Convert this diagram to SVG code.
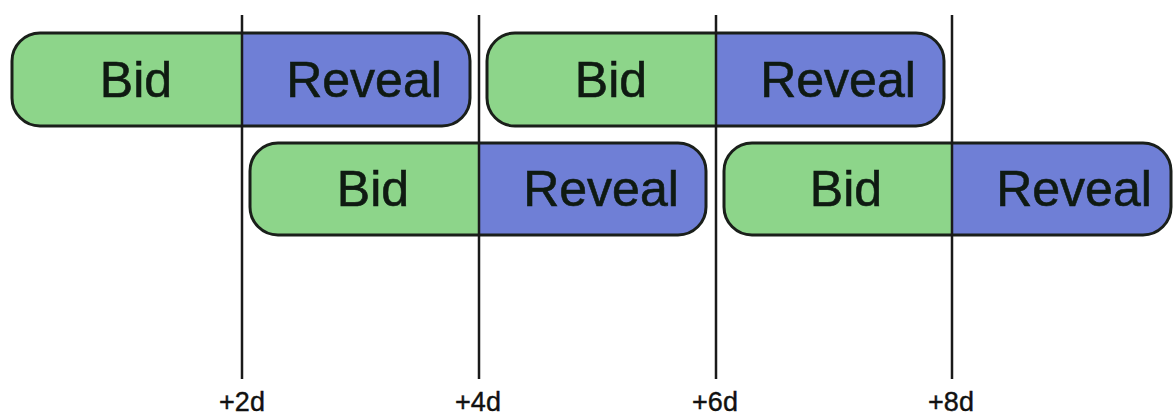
<svg xmlns="http://www.w3.org/2000/svg" width="1173" height="417" viewBox="0 0 1173 417">
<style>
.bid{fill:#8dd58a}
.rev{fill:#6f7fd6}
.outline{fill:none;stroke:#1a1f1a;stroke-width:3}
.t{font-family:"Liberation Sans",Arial,sans-serif;font-size:50px;fill:#0f1a12;text-anchor:middle;stroke:#0f1a12;stroke-width:0.6}
.tick{stroke:#1a1a1a;stroke-width:2.5}
.lbl{font-family:"Liberation Sans",Arial,sans-serif;font-size:27px;fill:#111;text-anchor:middle;stroke:#111;stroke-width:0.4}
</style>
<defs>
<clipPath id="c1"><rect x="12" y="33" width="458" height="93" rx="28"/></clipPath>
<clipPath id="c2"><rect x="487" y="33" width="457" height="93" rx="28"/></clipPath>
<clipPath id="c3"><rect x="250" y="143" width="456" height="92" rx="28"/></clipPath>
<clipPath id="c4"><rect x="724" y="143" width="447" height="92" rx="28"/></clipPath>
</defs>
<rect width="1173" height="417" fill="#ffffff"/>
<g id="box1">
<g clip-path="url(#c1)"><rect class="bid" x="12" y="33" width="230" height="93"/><rect class="rev" x="242" y="33" width="228" height="93"/></g>
<rect class="outline" x="12" y="33" width="458" height="93" rx="28"/>
<text class="t" x="136" y="97">Bid</text><text class="t" x="364" y="97">Reveal</text>
</g>
<g id="box2">
<g clip-path="url(#c2)"><rect class="bid" x="487" y="33" width="229" height="93"/><rect class="rev" x="716" y="33" width="228" height="93"/></g>
<rect class="outline" x="487" y="33" width="457" height="93" rx="28"/>
<text class="t" x="611" y="97">Bid</text><text class="t" x="838" y="97">Reveal</text>
</g>
<g id="box3">
<g clip-path="url(#c3)"><rect class="bid" x="250" y="143" width="229" height="92"/><rect class="rev" x="479" y="143" width="227" height="92"/></g>
<rect class="outline" x="250" y="143" width="456" height="92" rx="28"/>
<text class="t" x="373" y="206">Bid</text><text class="t" x="601" y="206">Reveal</text>
</g>
<g id="box4">
<g clip-path="url(#c4)"><rect class="bid" x="724" y="143" width="228" height="92"/><rect class="rev" x="952" y="143" width="219" height="92"/></g>
<rect class="outline" x="724" y="143" width="447" height="92" rx="28"/>
<text class="t" x="846" y="206">Bid</text><text class="t" x="1074" y="206">Reveal</text>
</g>
<g id="connectors">
<line class="tick" x1="242" y1="15" x2="242" y2="379"/>
<line class="tick" x1="479" y1="15" x2="479" y2="379"/>
<line class="tick" x1="716" y1="15" x2="716" y2="379"/>
<line class="tick" x1="952" y1="15" x2="952" y2="379"/>
</g>
<g id="labels">
<text class="lbl" x="242" y="411">+2d</text>
<text class="lbl" x="478" y="411">+4d</text>
<text class="lbl" x="715" y="411">+6d</text>
<text class="lbl" x="951" y="411">+8d</text>
</g>
</svg>
